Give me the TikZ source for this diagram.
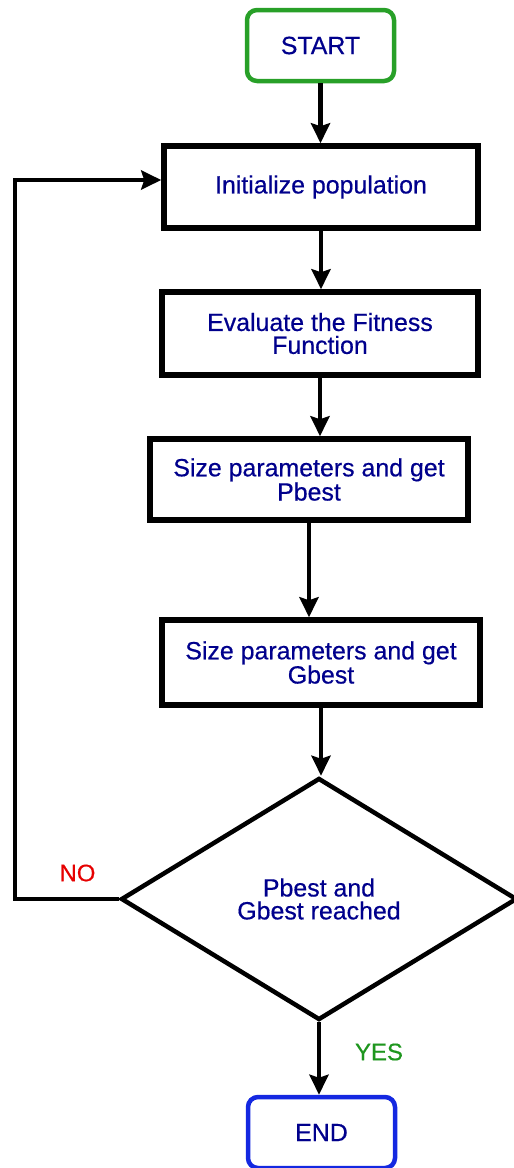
\documentclass[tikz,border=0pt]{standalone}
\usepackage{fontspec}
\setmainfont{Liberation Sans}
\newfontfamily\lblfont[FakeBold=0.5]{Liberation Sans}
\usepackage{tikz}
\usetikzlibrary{
  	positioning,
  	arrows.meta,
  	shapes.geometric,
  	calc
  }
\definecolor{txtblue}{RGB}{0,0,140}
\definecolor{okgreen}{RGB}{30,150,30}
\definecolor{startgreen}{RGB}{40,160,40}
\definecolor{endblue}{RGB}{20,40,225}
\definecolor{nored}{RGB}{230,0,0}
\tikzstyle{lbl}=[text=txtblue,font=\lblfont\fontsize{25}{23}\selectfont,align=center]
\tikzstyle{blk}=[lbl,draw=black,line width=5.5bp,minimum width=316bp,minimum height=83bp]
\tikzstyle{term}=[lbl,draw,rounded corners=10bp,line width=4.5bp,minimum width=147bp,minimum height=71bp]
\tikzstyle{cond}=[lbl,diamond,draw=black,line width=4.5bp,inner sep=0pt,aspect=1.64,minimum width=396bp,minimum height=242bp]
\tikzstyle{arr}=[line width=4.5bp,-{Stealth[length=20bp,width=19bp,inset=3bp]}]

\begin{document}
\begin{tikzpicture}[x=1bp,y=-1bp]
  \useasboundingbox (0,0) rectangle (514,1168);
  \node [term,draw=startgreen] (s) at (320.5,45.5) {START};
  \node [blk,minimum width=314bp,minimum height=82bp] (a) at (321,187) {Initialize population};
  \node [blk] (b) at (320,333.5) {Evaluate the Fitness\\Function};
  \node [blk,minimum width=318bp,minimum height=81bp] (c) at (309,479.5) {Size parameters and get\\Pbest};
  \node [blk,minimum width=318bp,minimum height=85bp] (d) at (321,662.5) {Size parameters and get\\Gbest};
  \node [cond] (q) at (319,899) {Pbest and\\Gbest reached};
  \node [term,draw=endblue] (e) at (321.5,1132.5) {END};
%
  \draw [arr] (s) -- (s |- a.north);
  \draw [arr] (a) -- (a |- b.north);
  \draw [arr] (b.south) -- (b.south |- c.north);
  \draw [arr] (c.south) -- (c.south |- d.north);
  \draw [arr] (d) -- (d |- q.north);
  \draw [arr] (q) -- (q |- e.north);
%
  \coordinate (k) at (15,180);
  \draw [arr] (q.west) -- (q.west -| k) -- (k) -- (k -| a.west);
  \node [text=nored,font=\lblfont\fontsize{24}{24}\selectfont] (no) at (77.5,873) {NO};
  \node [text=okgreen,font=\lblfont\fontsize{24}{24}\selectfont] (yes) at (379,1052) {YES};
\end{tikzpicture}
\end{document}
